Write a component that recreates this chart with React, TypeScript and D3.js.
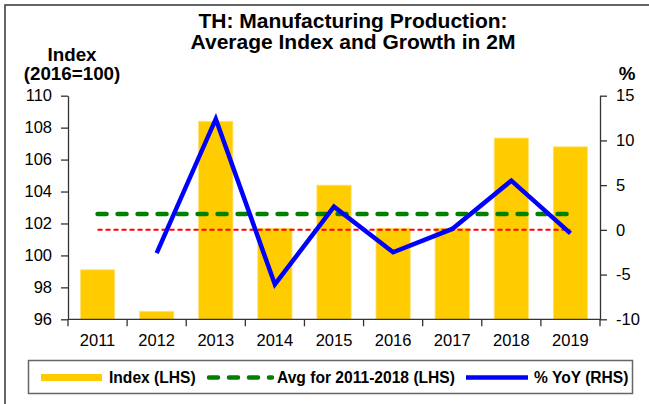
import React, { useRef, useEffect } from "react";
import * as d3 from "d3";

// chart data
const years = ["2011", "2012", "2013", "2014", "2015", "2016", "2017", "2018", "2019"];
const indexValues = [99.1, 96.5, 108.4, 101.7, 104.4, 101.7, 101.7, 107.35, 106.8];
const yoyYears = ["2012", "2013", "2014", "2015", "2016", "2017", "2018", "2019"];
const yoyValues = [-2.6, 12.4, -6.1, 2.6, -2.5, 0.1, 5.5, -0.4];
const avgIndex = 102.6;
const zeroLine = 0;
const leftTicks = [96, 98, 100, 102, 104, 106, 108, 110];
const rightTicks = [-10, -5, 0, 5, 10, 15];

const FONT = "'Liberation Sans', Arial, sans-serif";

const App = () => {
    const ref = useRef<SVGSVGElement>(null);

    useEffect(() => {
        const svg = d3.select(ref.current);
        svg.selectAll("*").remove();

        const left = 68, right = 600, top = 95.7, bottom = 319.3;

        const x = d3.scaleBand()
            .domain(years)
            .range([left, right])
            .paddingInner(0.42)
            .paddingOuter(0.21);

        const yL = d3.scaleLinear().domain([96, 110]).range([bottom, top]);
        const yR = d3.scaleLinear().domain([-10, 15]).range([bottom, top]);
        const cx = (d: string) => (x(d) as number) + x.bandwidth() / 2;

        // outer frame (only top/left visible)
        svg.append("rect")
            .attr("x", 5).attr("y", 5)
            .attr("width", 700).attr("height", 500)
            .attr("fill", "none")
            .attr("stroke", "#333")
            .attr("stroke-width", 1.5);

        // title
        const title = svg.append("text")
            .attr("text-anchor", "middle")
            .style("font-family", FONT)
            .style("font-weight", "bold")
            .style("font-size", "21px");
        title.append("tspan").attr("x", 353).attr("y", 27.5).text("TH: Manufacturing Production:");
        title.append("tspan").attr("x", 353).attr("y", 48.5).text("Average Index and Growth in 2M");

        // axis titles
        const axTitle = svg.append("g")
            .style("font-family", FONT)
            .style("font-weight", "bold")
            .style("font-size", "18.8px")
            .attr("text-anchor", "middle");
        axTitle.append("text").attr("x", 72).attr("y", 61).text("Index");
        axTitle.append("text").attr("x", 72).attr("y", 80).text("(2016=100)");
        axTitle.append("text").attr("x", 627).attr("y", 80).text("%");

        // bars
        svg.append("g")
            .selectAll("rect")
            .data(years)
            .join("rect")
            .attr("x", (d) => x(d) as number)
            .attr("width", x.bandwidth())
            .attr("y", (d, i) => yL(indexValues[i]))
            .attr("height", (d, i) => bottom - yL(indexValues[i]))
            .attr("fill", "#FFCC00")
            .attr("stroke", "#FFE27A")
            .attr("stroke-width", 0.8);

        // red dashed zero line (RHS)
        svg.append("line")
            .attr("x1", cx(years[0])).attr("x2", cx(years[years.length - 1]))
            .attr("y1", yR(zeroLine)).attr("y2", yR(zeroLine))
            .attr("stroke", "#FF0000")
            .attr("stroke-width", 2)
            .attr("stroke-dasharray", "5 3");

        // green dashed average
        svg.append("line")
            .attr("x1", cx(years[0])).attr("x2", cx(years[years.length - 1]))
            .attr("y1", yL(avgIndex)).attr("y2", yL(avgIndex))
            .attr("stroke", "#008000")
            .attr("stroke-width", 4.5)
            .attr("stroke-linecap", "round")
            .attr("stroke-dasharray", "9 11");

        // yoy line
        const line = d3.line<number>()
            .x((d, i) => cx(yoyYears[i]))
            .y((d) => yR(d));
        svg.append("path")
            .attr("d", line(yoyValues))
            .attr("fill", "none")
            .attr("stroke", "#0000FF")
            .attr("stroke-width", 4.5)
            .attr("stroke-linejoin", "miter");

        // axes
        const axisL = svg.append("g")
            .attr("transform", `translate(${left},0)`)
            .call(d3.axisLeft(yL).tickValues(leftTicks).tickSize(7).tickSizeOuter(0).tickPadding(9).tickFormat(d3.format("d")));
        const axisR = svg.append("g")
            .attr("transform", `translate(${right},0)`)
            .call(d3.axisRight(yR).tickValues(rightTicks).tickSize(7).tickSizeOuter(0).tickPadding(9).tickFormat(d3.format("d")));
        [axisL, axisR].forEach((a) => {
            a.selectAll("path, line").attr("stroke", "#333").attr("stroke-width", 1.3);
            a.selectAll("text")
                .style("font-family", FONT)
                .style("font-size", "16.5px")
                .attr("fill", "#000");
        });
        axisR.selectAll("text").text((d: any) => (d < 0 ? "-" + Math.abs(d) : String(d)));

        // bottom axis with ticks between categories
        const xAxis = svg.append("g");
        xAxis.append("line")
            .attr("x1", left).attr("x2", right)
            .attr("y1", bottom).attr("y2", bottom)
            .attr("stroke", "#333").attr("stroke-width", 1.3);
        const step = x.step();
        xAxis.selectAll(".tk")
            .data(d3.range(years.length + 1))
            .join("line")
            .attr("x1", (i) => left + i * step).attr("x2", (i) => left + i * step)
            .attr("y1", bottom).attr("y2", bottom + 7)
            .attr("stroke", "#333").attr("stroke-width", 1.3);
        xAxis.selectAll("text")
            .data(years)
            .join("text")
            .attr("x", (d) => cx(d))
            .attr("y", 345.5)
            .attr("text-anchor", "middle")
            .style("font-family", FONT)
            .style("font-size", "16.5px")
            .text((d) => d);

        // legend
        const lg = svg.append("g");
        lg.append("rect")
            .attr("x", 28.5).attr("y", 360.5)
            .attr("width", 604).attr("height", 33)
            .attr("fill", "#fff")
            .attr("stroke", "#666")
            .attr("stroke-width", 1.5);
        const ly = 377.5;
        lg.append("line")
            .attr("x1", 41).attr("x2", 102).attr("y1", ly).attr("y2", ly)
            .attr("stroke", "#FFCC00").attr("stroke-width", 7);
        lg.append("line")
            .attr("x1", 209).attr("x2", 272).attr("y1", ly).attr("y2", ly)
            .attr("stroke", "#008000").attr("stroke-width", 4.5)
            .attr("stroke-linecap", "round")
            .attr("stroke-dasharray", "9 11");
        lg.append("line")
            .attr("x1", 466).attr("x2", 528).attr("y1", ly).attr("y2", ly)
            .attr("stroke", "#0000FF").attr("stroke-width", 4.5);
        const lt = [
            { x: 109, t: "Index (LHS)" },
            { x: 277, t: "Avg for 2011-2018 (LHS)" },
            { x: 534, t: "% YoY (RHS)" },
        ];
        lg.selectAll(".lt")
            .data(lt)
            .join("text")
            .attr("x", (d) => d.x)
            .attr("y", 382.7)
            .style("font-family", FONT)
            .style("font-weight", "bold")
            .style("font-size", "15.6px")
            .text((d) => d.t);
    }, []);

    return (
        <svg ref={ref} width={649} height={404}
            style={{ position: "absolute", left: 0, top: 0, background: "#fff" }} />
    );
};

export default App;
